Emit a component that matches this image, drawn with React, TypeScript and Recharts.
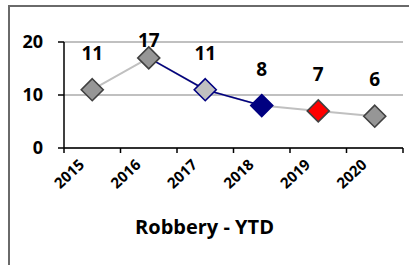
import { LineChart, Line, XAxis, YAxis, CartesianGrid } from "recharts";

const years = ["2015", "2016", "2017", "2018", "2019", "2020"];
const robbery = [11, 17, 11, 8, 7, 6];
// navy segment 2016 -> 2018
const navySegment = [null, 17, 11, 8, null, null];
const markerFill = ["#969696", "#969696", "#c0c0c0", "#000080", "#ff0000", "#969696"];
const markerStroke = ["#404040", "#404040", "#000080", "#000080", "#404040", "#404040"];
const yTicks = [0, 10, 20];

const W = 409;
const H = 265;
const margin = { top: 42, right: 6, left: 8, bottom: 0 };
const yAxisW = 56;
const plotW = W - margin.left - margin.right - yAxisW;
const band = plotW / years.length;
const font = "'Open Sans', 'Liberation Sans', sans-serif";

const chartData = years.map((y, i) => ({ year: y, value: robbery[i], navy: navySegment[i] }));

function Diamond(props: any) {
  const { cx, cy, index } = props;
  if (cx == null || cy == null) return null;
  const r = 11;
  return (
    <path
      d={`M${cx},${cy - r} L${cx + r},${cy} L${cx},${cy + r} L${cx - r},${cy} Z`}
      fill={markerFill[index]}
      stroke={markerStroke[index]}
      strokeWidth={1.6}
    />
  );
}

function ValueLabel(props: any) {
  const { x, y, value } = props;
  return (
    <text
      x={x}
      y={Math.max(y - 37, 40)}
      textAnchor="middle"
      dominantBaseline="central"
      fontFamily={font}
      fontWeight={700}
      fontSize={19}
      fill="#000"
    >
      {value}
    </text>
  );
}

function YearTick(props: any) {
  const { x, y, payload, index } = props;
  const last = index === years.length - 1;
  const ax = x - 7;
  const ay = y + 18;
  return (
    <g>
      <line x1={x - band / 2} x2={x - band / 2} y1={y} y2={y + 5} stroke="#000" strokeWidth={1.5} />
      {last && <line x1={x + band / 2} x2={x + band / 2} y1={y} y2={y + 5} stroke="#000" strokeWidth={1.5} />}
      <text
        x={ax}
        y={ay}
        transform={`rotate(-43, ${ax}, ${ay})`}
        textAnchor="end"
        fontFamily={font}
        fontWeight={700}
        fontSize={15}
        fill="#000"
      >
        {payload.value}
      </text>
    </g>
  );
}

export default function App() {
  return (
    <div style={{ position: "absolute", left: 0, top: 0, width: W, height: H, background: "#fff" }}>
      <div
        style={{
          position: "absolute",
          left: 8,
          top: 5,
          width: W - 9,
          height: H,
          borderLeft: "2px solid #6a6a6a",
          borderTop: "2px solid #6a6a6a",
        }}
      />
      <div style={{ position: "absolute", left: 0, top: 0 }}>
        <LineChart width={W} height={H} data={chartData} margin={margin}>
          <CartesianGrid vertical={false} stroke="#c0c0c0" strokeWidth={2} />
          <XAxis
            dataKey="year"
            padding={{ left: band / 2, right: band / 2 }}
            height={H - 148}
            axisLine={{ stroke: "#000", strokeWidth: 1.5 }}
            tickLine={false}
            tickSize={0}
            tickMargin={0}
            interval={0}
            tick={<YearTick />}
          />
          <YAxis
            width={yAxisW}
            domain={[0, 20]}
            ticks={yTicks}
            axisLine={{ stroke: "#000", strokeWidth: 1.5 }}
            tickLine={{ stroke: "#000", strokeWidth: 1.5 }}
            tickSize={6}
            tickMargin={15}
            tick={{ fontFamily: font, fontWeight: 700, fontSize: 18, fill: "#000" }}
          />
          <Line dataKey="value" stroke="#c0c0c0" strokeWidth={2} dot={false} isAnimationActive={false} />
          <Line dataKey="navy" stroke="#000080" strokeWidth={1.6} dot={false} isAnimationActive={false} />
          <Line
            dataKey="value"
            stroke="none"
            dot={<Diamond />}
            activeDot={false}
            label={<ValueLabel />}
            isAnimationActive={false}
          />
        </LineChart>
      </div>
      <div
        style={{
          position: "absolute",
          left: 0,
          top: 217,
          width: W,
          textAlign: "center",
          fontFamily: font,
          fontWeight: 700,
          fontSize: 20,
          lineHeight: "20px",
          color: "#000",
        }}
      >
        Robbery - YTD
      </div>
    </div>
  );
}
